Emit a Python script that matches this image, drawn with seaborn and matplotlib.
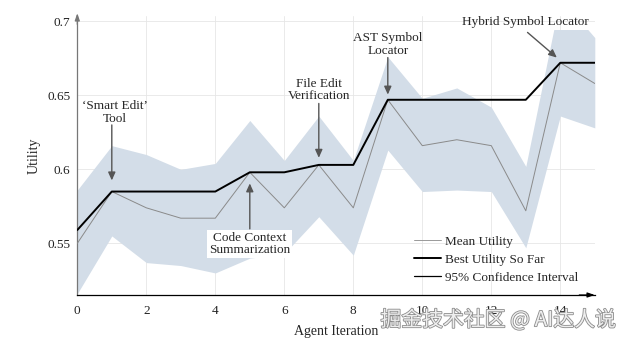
import numpy as np
import pandas as pd
import matplotlib
matplotlib.use("Agg")
import matplotlib.pyplot as plt
import matplotlib.patheffects as pe
from matplotlib.patches import Rectangle
import seaborn as sns

# ---- data ----
iterations = list(range(16))
mean_utility = [0.550, 0.585, 0.574, 0.567, 0.567, 0.598, 0.574, 0.603,
                0.574, 0.647, 0.616, 0.620, 0.616, 0.572, 0.672, 0.658]
best_utility = [0.559, 0.585, 0.585, 0.585, 0.585, 0.598, 0.598, 0.603,
                0.603, 0.647, 0.647, 0.647, 0.647, 0.647, 0.672, 0.672]
ci_upper = [0.586, 0.616, 0.610, 0.600, 0.604, 0.633, 0.606, 0.636,
            0.606, 0.676, 0.648, 0.655, 0.642, 0.602, 0.716, 0.689]
ci_lower = [0.516, 0.555, 0.537, 0.535, 0.530, 0.540, 0.543, 0.568,
            0.542, 0.613, 0.585, 0.586, 0.585, 0.547, 0.636, 0.628]
x_ticks = [0, 2, 4, 6, 8, 10, 12, 14]
y_ticks = [0.55, 0.6, 0.65, 0.7]
y_tick_labels = ["0.55", "0.6", "0.65", "0.7"]

annotations = [
    ("\u2018Smart Edit\u2019\nTool", 1),
    ("File Edit\nVerification", 7),
    ("AST Symbol\nLocator", 9),
    ("Hybrid Symbol Locator", 14),
    ("Code Context\nSummarization", 5),
]

df = pd.DataFrame({"iter": iterations, "mean": mean_utility, "best": best_utility,
                   "lo": ci_lower, "hi": ci_upper})

sns.set_theme(style="white")
plt.rcParams["font.family"] = ["Liberation Serif", "DejaVu Serif"]
plt.rcParams["mathtext.fontset"] = "dejavuserif"

fig = plt.figure(figsize=(6.3, 3.45), dpi=100)
ax = fig.add_axes([77.3 / 630, 50 / 345, 517.5 / 630, 279 / 345])

band_color = "#d3dde8"
poly = ax.fill_between(df["iter"], df["lo"], df["hi"], color=band_color, lw=0, zorder=1)
clip = Rectangle((0, 0.5), 15, 0.194, transform=ax.transData)
poly.set_clip_path(clip)

sns.lineplot(data=df, x="iter", y="mean", ax=ax, color="#8a8a8a", lw=0.7, zorder=3)
sns.lineplot(data=df, x="iter", y="best", ax=ax, color="black", lw=1.4, zorder=4)

ax.set_xlim(0, 15)
ax.set_ylim(0.5151, 0.7036)
ax.set_xticks(x_ticks)
ax.set_yticks(y_ticks)
ax.set_yticklabels(y_tick_labels)
ax.grid(True, color="#e6e6e6", lw=0.6, zorder=0)
ax.set_axisbelow(True)
for s in ["top", "right"]:
    ax.spines[s].set_visible(False)
ax.spines["left"].set_color("#777777")
ax.spines["left"].set_linewidth(0.9)
ax.spines["bottom"].set_color("black")
ax.spines["bottom"].set_linewidth(0.9)
ax.tick_params(axis="both", which="major", direction="inout", length=4, width=0.6,
               labelsize=9.5, colors="#222222", pad=3)
ax.tick_params(axis="x", pad=5)
ax.tick_params(axis="y", colors="#777777", labelcolor="#222222")
ax.set_xlabel("Agent Iteration", fontsize=10, labelpad=6)
ax.set_ylabel("Utility", fontsize=10, labelpad=5)

# axis arrows
ax.annotate("", xy=(1.0, 0), xytext=(0.97, 0), xycoords="axes fraction",
            arrowprops=dict(arrowstyle="-|>,head_length=0.35,head_width=0.12",
                            color="black", lw=0.9, shrinkA=0, shrinkB=0))
ax.annotate("", xy=(0, 1.01), xytext=(0, 0.97), xycoords="axes fraction",
            arrowprops=dict(arrowstyle="-|>,head_length=0.35,head_width=0.12",
                            color="#777777", lw=0.9, shrinkA=0, shrinkB=0),
            annotation_clip=False)

arrow_kw = dict(arrowstyle="-|>,head_length=0.4,head_width=0.18", color="#555555",
                lw=1.0, shrinkA=0, shrinkB=0)
fs = 9.5
# Smart Edit
ax.text(1.09, 0.6385, annotations[0][0], ha="center", va="center", fontsize=fs,
        linespacing=1.05)
ax.annotate("", xy=(annotations[0][1], 0.5925), xytext=(1.0, 0.6300), arrowprops=arrow_kw)
# File Edit Verification
ax.text(7.0, 0.6535, annotations[1][0], ha="center", va="center", fontsize=fs,
        linespacing=1.05)
ax.annotate("", xy=(annotations[1][1], 0.6078), xytext=(7.0, 0.6445), arrowprops=arrow_kw)
# AST Symbol Locator
ax.text(9.0, 0.6842, annotations[2][0], ha="center", va="center", fontsize=fs,
        linespacing=1.05)
ax.annotate("", xy=(annotations[2][1], 0.6505), xytext=(9.0, 0.6755), arrowprops=arrow_kw)
# Hybrid Symbol Locator
ax.text(13.0, 0.6995, annotations[3][0], ha="center", va="center", fontsize=fs)
ax.annotate("", xy=(13.9, 0.6755), xytext=(13.05, 0.6925), arrowprops=arrow_kw,
            annotation_clip=False)
# Code Context Summarization
ax.text(5.0, 0.5495, annotations[4][0], ha="center", va="center", fontsize=fs,
        linespacing=1.05, zorder=6,
        bbox=dict(boxstyle="square,pad=0.15", fc="white", ec="none"))
ax.annotate("", xy=(annotations[4][1], 0.5905), xytext=(5.0, 0.5598), arrowprops=arrow_kw,
            zorder=6)

# legend
handles = [plt.Line2D([], [], color="#999999", lw=0.7),
           plt.Line2D([], [], color="black", lw=1.4),
           plt.Line2D([], [], color="black", lw=0.9)]
labels = ["Mean Utility", "Best Utility So Far", "95% Confidence Interval"]
leg = ax.legend(handles, labels, loc="lower left", bbox_to_anchor=(0.64, 0.022),
                frameon=False, fontsize=fs, handlelength=2.1, handletextpad=0.25,
                labelspacing=0.42, borderaxespad=0)

# watermark
fig.text(0.978, 0.04, "掘金技术社区 @ AI达人说", ha="right", va="bottom", fontsize=15,
         family=["Noto Sans CJK SC", "DejaVu Sans"], color="#eeeeee",
         path_effects=[pe.withStroke(linewidth=1.2, foreground="#8c8c8c")])

fig.savefig("out.png", dpi=100)
